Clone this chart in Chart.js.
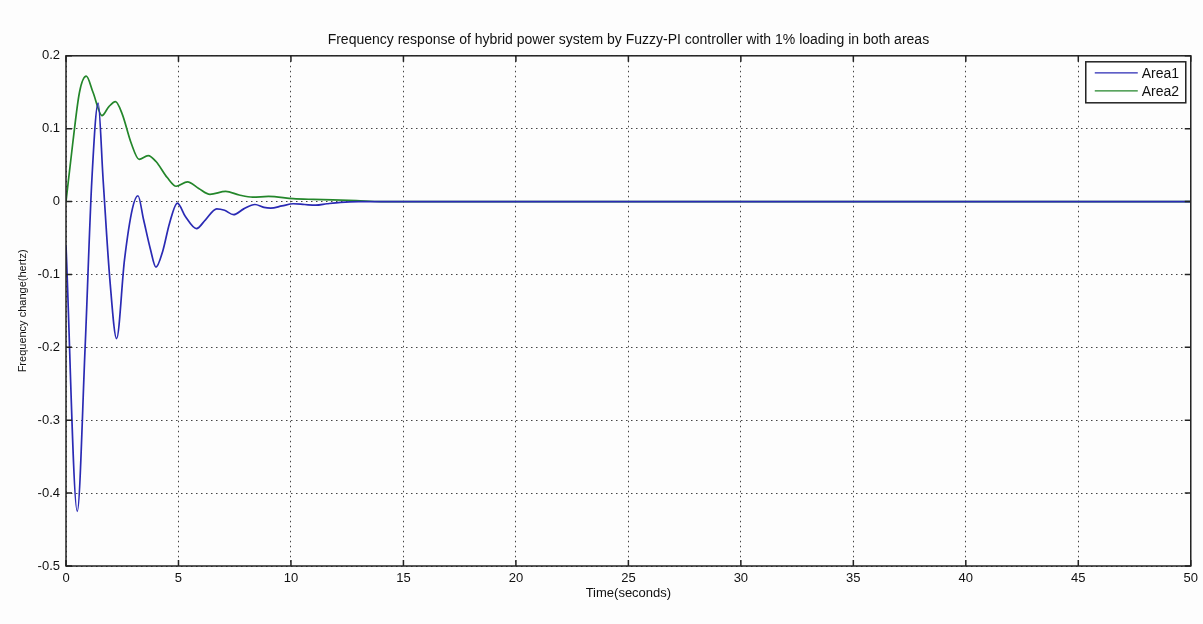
<!DOCTYPE html>
<html>
<head>
<meta charset="utf-8">
<script src="https://cdn.jsdelivr.net/npm/chart.js@4.4.0/dist/chart.umd.min.js"></script>
<style>
  html, body { margin: 0; padding: 0; background: #fdfdfd; }
  #wrap { width: 1203px; height: 624px; }
</style>
</head>
<body>
<div id="wrap"><canvas id="freqChart" width="1203" height="624"></canvas></div>
<script>
// data (time in seconds, frequency change in Hz)
const seriesNames = ['Area1', 'Area2'];
const area1Time = [0, 0.5, 0.85, 1.15, 1.43, 1.65, 1.95, 2.25, 2.6, 2.95, 3.2, 3.45, 3.75, 4.0, 4.3, 4.6, 4.95, 5.3, 5.8, 6.2, 6.7, 7.05, 7.45, 7.9, 8.4, 8.8, 9.1, 9.6, 10.1, 10.6, 11.1, 11.6, 12.2, 13, 20, 30, 40, 50];
const area1Freq = [-0.06, -0.425, -0.2, 0.03, 0.135, 0.03, -0.107, -0.188, -0.08, -0.01, 0.008, -0.025, -0.065, -0.09, -0.068, -0.03, -0.002, -0.02, -0.037, -0.025, -0.01, -0.012, -0.018, -0.01, -0.004, -0.008, -0.009, -0.006, -0.003, -0.004, -0.005, -0.003, -0.001, 0, 0, 0, 0, 0];
const area2Time = [0, 0.3, 0.6, 0.9, 1.2, 1.6, 1.9, 2.2, 2.5, 2.9, 3.25, 3.65, 4.0, 4.5, 4.9, 5.4, 5.9, 6.4, 7.1, 7.7, 8.3, 9.0, 10.1, 11, 12.9, 14, 20, 30, 40, 50];
const area2Freq = [0, 0.08, 0.15, 0.172, 0.15, 0.118, 0.13, 0.137, 0.12, 0.08, 0.058, 0.063, 0.055, 0.033, 0.021, 0.027, 0.018, 0.01, 0.014, 0.009, 0.006, 0.007, 0.004, 0.003, 0.0015, 0, 0, 0, 0, 0];
const xTicks = [0, 5, 10, 15, 20, 25, 30, 35, 40, 45, 50];
const yTicks = [-0.5, -0.4, -0.3, -0.2, -0.1, 0, 0.1, 0.2];
const seriesColors = ['#2a2ab4', '#23862a'];

const fontFamily = 'Arial, "Liberation Sans", sans-serif';

function toPoints(xs, ys) {
    return xs.map((x, i) => ({ x: x, y: ys[i] }));
}

// box, inner tick marks and legend like the original figure
const frameBox = {
    id: 'frameBox',
    afterDraw(chart) {
        const ctx = chart.ctx;
        const a = chart.chartArea;
        const xs = chart.scales.x;
        const ys = chart.scales.y;
        ctx.save();
        ctx.strokeStyle = '#222';
        ctx.lineWidth = 1.5;
        ctx.setLineDash([]);
        ctx.strokeRect(a.left, a.top, a.right - a.left, a.bottom - a.top);

        ctx.beginPath();
        xTicks.forEach(t => {
            const px = xs.getPixelForValue(t);
            ctx.moveTo(px, a.bottom); ctx.lineTo(px, a.bottom - 6);
            ctx.moveTo(px, a.top); ctx.lineTo(px, a.top + 6);
        });
        yTicks.forEach(t => {
            const py = ys.getPixelForValue(t);
            ctx.moveTo(a.left, py); ctx.lineTo(a.left + 6, py);
            ctx.moveTo(a.right, py); ctx.lineTo(a.right - 6, py);
        });
        ctx.stroke();

        // legend in the top right corner
        const bx = a.right - 105, by = a.top + 6, bw = 100, bh = 41;
        ctx.fillStyle = '#ffffff';
        ctx.fillRect(bx, by, bw, bh);
        ctx.strokeStyle = '#222';
        ctx.lineWidth = 1.5;
        ctx.strokeRect(bx, by, bw, bh);
        ctx.font = '14px ' + fontFamily;
        ctx.textBaseline = 'middle';
        chart.data.datasets.forEach((ds, i) => {
            const ly = by + 11 + i * 18;
            ctx.strokeStyle = ds.borderColor;
            ctx.lineWidth = 1.3;
            ctx.beginPath();
            ctx.moveTo(bx + 9, ly);
            ctx.lineTo(bx + 52, ly);
            ctx.stroke();
            ctx.fillStyle = '#111';
            ctx.fillText(ds.label, bx + 56, ly + 1);
        });
        ctx.restore();
    }
};

const ctx = document.getElementById('freqChart').getContext('2d');
new Chart(ctx, {
    type: 'line',
    data: {
        datasets: [
            {
                label: seriesNames[0],
                data: toPoints(area1Time, area1Freq),
                borderColor: seriesColors[0],
                borderWidth: 1.7,
                pointRadius: 0,
                cubicInterpolationMode: 'monotone',
                fill: false
            },
            {
                label: seriesNames[1],
                data: toPoints(area2Time, area2Freq),
                borderColor: seriesColors[1],
                borderWidth: 1.7,
                pointRadius: 0,
                cubicInterpolationMode: 'monotone',
                fill: false
            }
        ]
    },
    options: {
        responsive: false,
        animation: false,
        layout: { padding: { left: 16, right: 11, top: 0, bottom: 23 } },
        plugins: {
            legend: { display: false },
            tooltip: { enabled: false },
            title: {
                display: true,
                fullSize: false,
                text: 'Frequency response of hybrid power system by Fuzzy-PI controller with 1% loading in both areas',
                color: '#111',
                font: { family: fontFamily, size: 14, weight: 'normal' },
                padding: { top: 32, bottom: 7 }
            }
        },
        scales: {
            x: {
                type: 'linear',
                min: 0,
                max: 50,
                afterBuildTicks: s => { s.ticks = xTicks.map(v => ({ value: v })); },
                afterFit: s => { s.height = 35; },
                ticks: {
                    color: '#111',
                    padding: 5,
                    maxRotation: 0,
                    font: { family: fontFamily, size: 13 },
                    callback: v => String(v)
                },
                grid: { color: '#444', lineWidth: 1, drawTicks: false },
                border: { display: false, dash: [1.5, 3.5] },
                title: {
                    display: true,
                    text: 'Time(seconds)',
                    color: '#111',
                    font: { family: fontFamily, size: 13 },
                    padding: { top: 2, bottom: 0 }
                }
            },
            y: {
                type: 'linear',
                min: -0.5,
                max: 0.2,
                afterBuildTicks: s => { s.ticks = yTicks.map(v => ({ value: v })); },
                afterFit: s => { s.width = 50; },
                ticks: {
                    color: '#111',
                    padding: 6,
                    font: { family: fontFamily, size: 13 },
                    callback: v => {
                        const r = Math.round(v * 10) / 10;
                        return r === 0 ? '0' : String(r);
                    }
                },
                grid: { color: '#444', lineWidth: 1, drawTicks: false },
                border: { display: false, dash: [1.5, 3.5] },
                title: {
                    display: true,
                    text: 'Frequency change(hertz)',
                    color: '#111',
                    font: { family: fontFamily, size: 11 },
                    padding: { top: 0, bottom: 4 }
                }
            }
        }
    },
    plugins: [frameBox]
});
</script>
</body>
</html>
